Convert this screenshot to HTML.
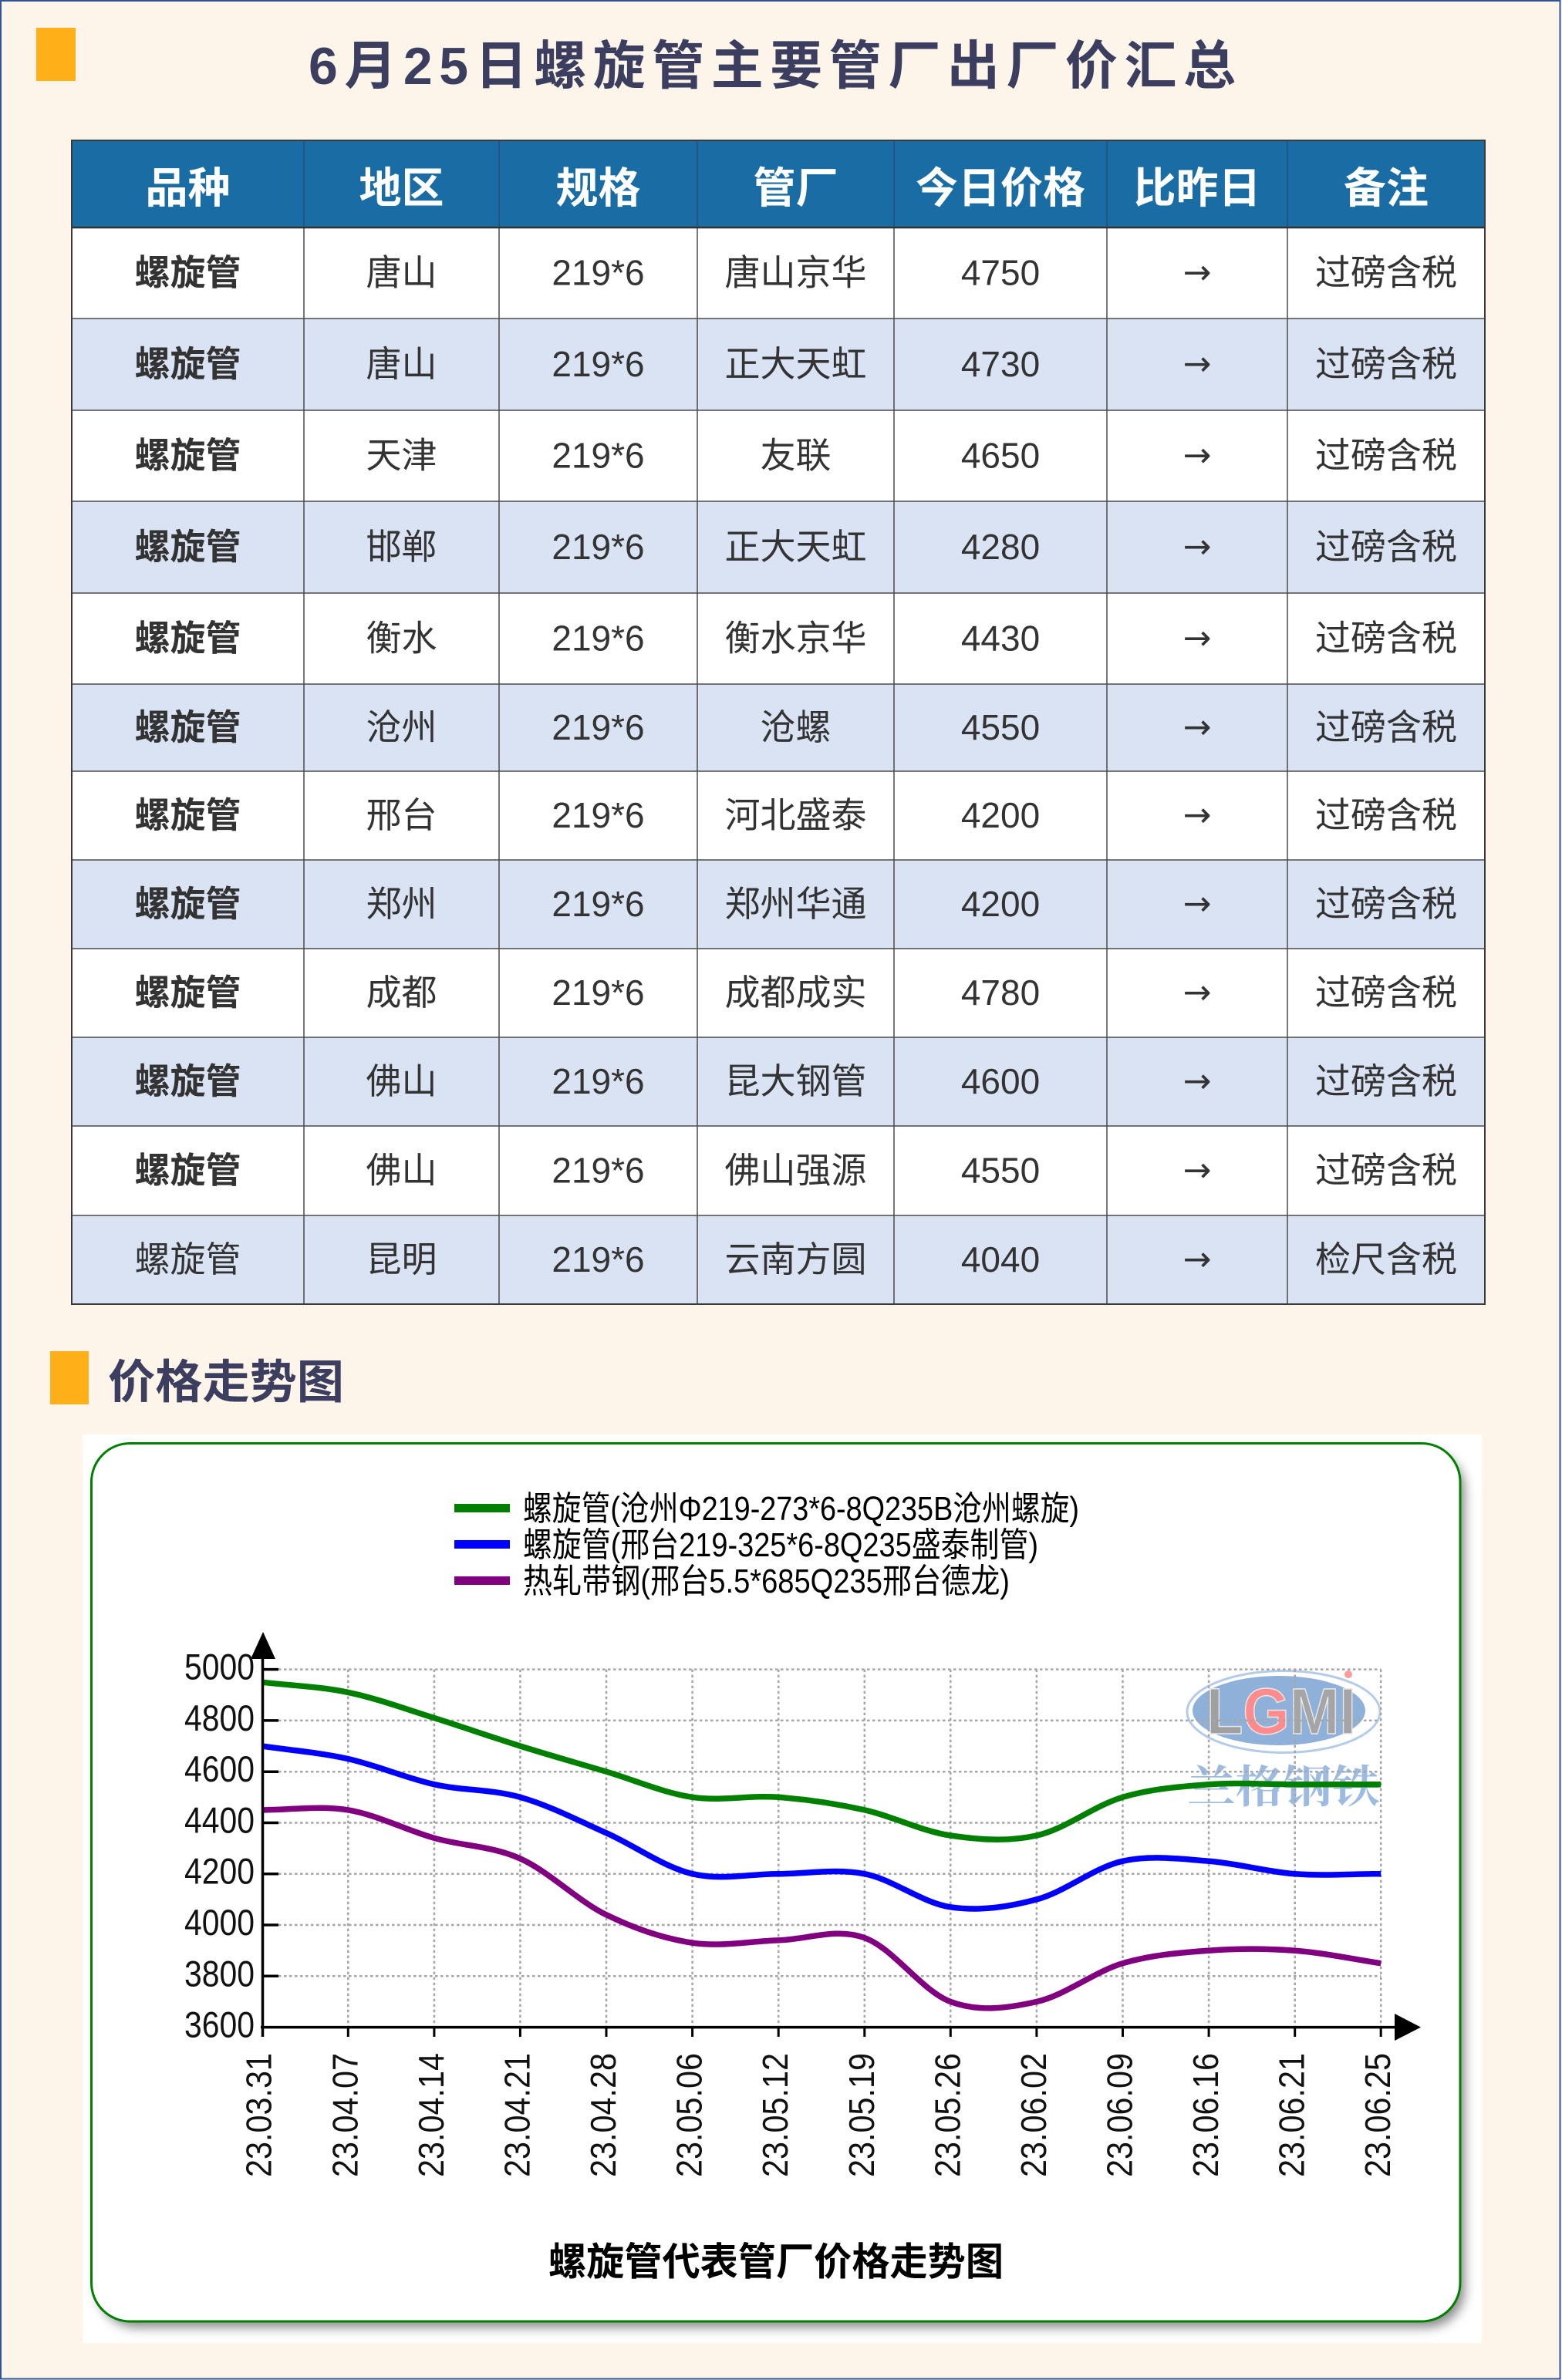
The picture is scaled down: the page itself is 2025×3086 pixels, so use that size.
<!DOCTYPE html>
<html>
<head>
<meta charset="utf-8">
<style>
html,body{margin:0;padding:0;background:#fdf5ea;}
svg{display:block;}
</style>
</head>
<body>
<svg width="2025" height="3086" viewBox="0 0 2025 3086" xmlns="http://www.w3.org/2000/svg">
<defs>
<filter id="sh" x="-5%" y="-5%" width="110%" height="110%">
<feGaussianBlur stdDeviation="7"/>
</filter>
</defs>
<!-- page background and border -->
<rect x="0" y="0" width="2025" height="3086" fill="#fdf5ea"/>
<rect x="1" y="1" width="2021.5" height="3083.5" fill="none" stroke="#2f5597" stroke-width="2"/>

<!-- title -->
<rect x="47" y="36" width="51" height="69" fill="#ffb019"/>
<text x="400" y="109" font-family="'Liberation Sans','Noto Sans CJK SC',sans-serif" font-weight="700" font-size="68" fill="#3c3e5f" textLength="1202" lengthAdjust="spacing">6月25日螺旋管主要管厂出厂价汇总</text>

<!-- table -->
<rect x="93" y="182" width="1832" height="113" fill="#1a6ca4"/>
<g fill="#dae3f3">
<rect x="93" y="413" width="1832" height="119"/>
<rect x="93" y="650" width="1832" height="119"/>
<rect x="93" y="887" width="1832" height="113"/>
<rect x="93" y="1115" width="1832" height="115"/>
<rect x="93" y="1345" width="1832" height="115"/>
<rect x="93" y="1576" width="1832" height="115"/>
</g>
<g fill="#ffffff">
<rect x="93" y="295" width="1832" height="118"/>
<rect x="93" y="532" width="1832" height="118"/>
<rect x="93" y="769" width="1832" height="118"/>
<rect x="93" y="1000" width="1832" height="115"/>
<rect x="93" y="1230" width="1832" height="115"/>
<rect x="93" y="1460" width="1832" height="116"/>
</g>
<!-- header dividers -->
<g stroke="#23507a" stroke-width="1.5">
<line x1="394" y1="182" x2="394" y2="295"/>
<line x1="647" y1="182" x2="647" y2="295"/>
<line x1="904" y1="182" x2="904" y2="295"/>
<line x1="1159" y1="182" x2="1159" y2="295"/>
<line x1="1435" y1="182" x2="1435" y2="295"/>
<line x1="1669" y1="182" x2="1669" y2="295"/>
</g>
<!-- body grid -->
<g stroke="#4a4a4a" stroke-width="1.5">
<line x1="394" y1="295" x2="394" y2="1691"/>
<line x1="647" y1="295" x2="647" y2="1691"/>
<line x1="904" y1="295" x2="904" y2="1691"/>
<line x1="1159" y1="295" x2="1159" y2="1691"/>
<line x1="1435" y1="295" x2="1435" y2="1691"/>
<line x1="1669" y1="295" x2="1669" y2="1691"/>
<line x1="93" y1="413" x2="1925" y2="413"/>
<line x1="93" y1="532" x2="1925" y2="532"/>
<line x1="93" y1="650" x2="1925" y2="650"/>
<line x1="93" y1="769" x2="1925" y2="769"/>
<line x1="93" y1="887" x2="1925" y2="887"/>
<line x1="93" y1="1000" x2="1925" y2="1000"/>
<line x1="93" y1="1115" x2="1925" y2="1115"/>
<line x1="93" y1="1230" x2="1925" y2="1230"/>
<line x1="93" y1="1345" x2="1925" y2="1345"/>
<line x1="93" y1="1460" x2="1925" y2="1460"/>
<line x1="93" y1="1576" x2="1925" y2="1576"/>
</g>
<line x1="93" y1="295" x2="1925" y2="295" stroke="#333" stroke-width="2.5"/>
<rect x="93" y="182" width="1832" height="1509" fill="none" stroke="#3a3a3a" stroke-width="2"/>

<!-- header text -->
<g font-family="'Liberation Sans','Noto Sans CJK SC',sans-serif" font-weight="700" font-size="55" fill="#ffffff" text-anchor="middle">
<text x="243.5" y="263">品种</text>
<text x="520.5" y="263">地区</text>
<text x="775.5" y="263">规格</text>
<text x="1031.5" y="263">管厂</text>
<text x="1297" y="263">今日价格</text>
<text x="1552" y="263">比昨日</text>
<text x="1797" y="263">备注</text>
</g>

<!-- body text -->
<g font-family="'Liberation Sans','Noto Sans CJK SC',sans-serif" font-size="46" fill="#333333" text-anchor="middle">
<g font-weight="700">
<text x="243.5" y="369.5">螺旋管</text>
<text x="243.5" y="488">螺旋管</text>
<text x="243.5" y="606.5">螺旋管</text>
<text x="243.5" y="725">螺旋管</text>
<text x="243.5" y="843.5">螺旋管</text>
<text x="243.5" y="959">螺旋管</text>
<text x="243.5" y="1073">螺旋管</text>
<text x="243.5" y="1188">螺旋管</text>
<text x="243.5" y="1303">螺旋管</text>
<text x="243.5" y="1418">螺旋管</text>
<text x="243.5" y="1533.5">螺旋管</text>
</g>
<text x="243.5" y="1649">螺旋管</text>

<text x="520.5" y="369.5">唐山</text>
<text x="520.5" y="488">唐山</text>
<text x="520.5" y="606.5">天津</text>
<text x="520.5" y="725">邯郸</text>
<text x="520.5" y="843.5">衡水</text>
<text x="520.5" y="959">沧州</text>
<text x="520.5" y="1073">邢台</text>
<text x="520.5" y="1188">郑州</text>
<text x="520.5" y="1303">成都</text>
<text x="520.5" y="1418">佛山</text>
<text x="520.5" y="1533.5">佛山</text>
<text x="520.5" y="1649">昆明</text>

<text x="775.5" y="369.5">219*6</text>
<text x="775.5" y="488">219*6</text>
<text x="775.5" y="606.5">219*6</text>
<text x="775.5" y="725">219*6</text>
<text x="775.5" y="843.5">219*6</text>
<text x="775.5" y="959">219*6</text>
<text x="775.5" y="1073">219*6</text>
<text x="775.5" y="1188">219*6</text>
<text x="775.5" y="1303">219*6</text>
<text x="775.5" y="1418">219*6</text>
<text x="775.5" y="1533.5">219*6</text>
<text x="775.5" y="1649">219*6</text>

<text x="1031.5" y="369.5">唐山京华</text>
<text x="1031.5" y="488">正大天虹</text>
<text x="1031.5" y="606.5">友联</text>
<text x="1031.5" y="725">正大天虹</text>
<text x="1031.5" y="843.5">衡水京华</text>
<text x="1031.5" y="959">沧螺</text>
<text x="1031.5" y="1073">河北盛泰</text>
<text x="1031.5" y="1188">郑州华通</text>
<text x="1031.5" y="1303">成都成实</text>
<text x="1031.5" y="1418">昆大钢管</text>
<text x="1031.5" y="1533.5">佛山强源</text>
<text x="1031.5" y="1649">云南方圆</text>

<text x="1297" y="369.5">4750</text>
<text x="1297" y="488">4730</text>
<text x="1297" y="606.5">4650</text>
<text x="1297" y="725">4280</text>
<text x="1297" y="843.5">4430</text>
<text x="1297" y="959">4550</text>
<text x="1297" y="1073">4200</text>
<text x="1297" y="1188">4200</text>
<text x="1297" y="1303">4780</text>
<text x="1297" y="1418">4600</text>
<text x="1297" y="1533.5">4550</text>
<text x="1297" y="1649">4040</text>

<g font-family="'DejaVu Sans',sans-serif" font-size="44">
<text x="1552" y="368">→</text>
<text x="1552" y="486.5">→</text>
<text x="1552" y="605">→</text>
<text x="1552" y="723.5">→</text>
<text x="1552" y="842">→</text>
<text x="1552" y="957.5">→</text>
<text x="1552" y="1071.5">→</text>
<text x="1552" y="1186.5">→</text>
<text x="1552" y="1301.5">→</text>
<text x="1552" y="1416.5">→</text>
<text x="1552" y="1532">→</text>
<text x="1552" y="1647.5">→</text>
</g>

<text x="1797" y="369.5">过磅含税</text>
<text x="1797" y="488">过磅含税</text>
<text x="1797" y="606.5">过磅含税</text>
<text x="1797" y="725">过磅含税</text>
<text x="1797" y="843.5">过磅含税</text>
<text x="1797" y="959">过磅含税</text>
<text x="1797" y="1073">过磅含税</text>
<text x="1797" y="1188">过磅含税</text>
<text x="1797" y="1303">过磅含税</text>
<text x="1797" y="1418">过磅含税</text>
<text x="1797" y="1533.5">过磅含税</text>
<text x="1797" y="1649">检尺含税</text>
</g>

<!-- section heading -->
<rect x="65" y="1752" width="50" height="69" fill="#ffb019"/>
<text x="140" y="1813" font-family="'Liberation Sans','Noto Sans CJK SC',sans-serif" font-weight="700" font-size="60" fill="#3c3e5f" textLength="306" lengthAdjust="spacingAndGlyphs">价格走势图</text>

<!-- chart frame -->
<rect x="107" y="1860" width="1814" height="1178" fill="#ffffff"/>
<rect x="127" y="1882" width="1772" height="1136" rx="50" ry="50" fill="#8a8a8a" filter="url(#sh)"/>
<rect x="118.5" y="1871.5" width="1774.5" height="1138.5" rx="50" ry="50" fill="#ffffff" stroke="#008000" stroke-width="3"/>

<!-- legend -->
<rect x="589" y="1950" width="72" height="11" fill="#008000"/>
<rect x="589" y="1997" width="72" height="11" fill="#0000ff"/>
<rect x="589" y="2044" width="72" height="11" fill="#800080"/>
<g font-family="'Liberation Sans','Noto Sans CJK SC',sans-serif" font-size="44" fill="#000">
<text x="678" y="1971" textLength="721" lengthAdjust="spacingAndGlyphs">螺旋管(沧州Φ219-273*6-8Q235B沧州螺旋)</text>
<text x="678" y="2018" textLength="668" lengthAdjust="spacingAndGlyphs">螺旋管(邢台219-325*6-8Q235盛泰制管)</text>
<text x="678" y="2065" textLength="631" lengthAdjust="spacingAndGlyphs">热轧带钢(邢台5.5*685Q235邢台德龙)</text>
</g>

<!-- watermark -->
<ellipse cx="1664" cy="2219.5" rx="125" ry="53" fill="none" stroke="#b5cce8" stroke-width="3"/>
<ellipse cx="1658" cy="2218" rx="112" ry="45" fill="#8fb1d9"/>
<text x="1564" y="2248" font-family="'Liberation Sans',sans-serif" font-weight="700" font-size="84" textLength="194" lengthAdjust="spacingAndGlyphs" stroke="#e8e8e8" stroke-width="1.5"><tspan fill="#a0a0a0">L</tspan><tspan fill="#ff8c8c">G</tspan><tspan fill="#a5a5a5">MI</tspan></text>
<circle cx="1748" cy="2171" r="5" fill="#ff9a9a"/>
<text x="1539" y="2337" font-family="'Liberation Serif','Noto Serif CJK SC',serif" font-weight="700" font-size="58" fill="#9dbbe0" textLength="250" lengthAdjust="spacingAndGlyphs">兰格钢铁</text>

<!-- grid -->
<g stroke="#a6a6a6" stroke-width="2.5" stroke-dasharray="3.5 3.5" fill="none">
<line x1="340" y1="2164.6" x2="1790.2" y2="2164.6"/>
<line x1="340" y1="2230.9" x2="1790.2" y2="2230.9"/>
<line x1="340" y1="2297.2" x2="1790.2" y2="2297.2"/>
<line x1="340" y1="2363.5" x2="1790.2" y2="2363.5"/>
<line x1="340" y1="2429.7" x2="1790.2" y2="2429.7"/>
<line x1="340" y1="2496.0" x2="1790.2" y2="2496.0"/>
<line x1="340" y1="2562.3" x2="1790.2" y2="2562.3"/>
<line x1="451.3" y1="2164.6" x2="451.3" y2="2627"/>
<line x1="562.9" y1="2164.6" x2="562.9" y2="2627"/>
<line x1="674.4" y1="2164.6" x2="674.4" y2="2627"/>
<line x1="786.0" y1="2164.6" x2="786.0" y2="2627"/>
<line x1="897.6" y1="2164.6" x2="897.6" y2="2627"/>
<line x1="1009.2" y1="2164.6" x2="1009.2" y2="2627"/>
<line x1="1120.8" y1="2164.6" x2="1120.8" y2="2627"/>
<line x1="1232.3" y1="2164.6" x2="1232.3" y2="2627"/>
<line x1="1343.9" y1="2164.6" x2="1343.9" y2="2627"/>
<line x1="1455.5" y1="2164.6" x2="1455.5" y2="2627"/>
<line x1="1567.1" y1="2164.6" x2="1567.1" y2="2627"/>
<line x1="1678.7" y1="2164.6" x2="1678.7" y2="2627"/>
<line x1="1790.2" y1="2164.6" x2="1790.2" y2="2627"/>
</g>

<!-- series -->
<g fill="none" stroke-width="7.5" stroke-linecap="butt" stroke-linejoin="round">
<path stroke="#008000" d="M339.7,2181.2 C376.9,2185.6 414.1,2186.7 451.3,2194.4 C488.5,2202.1 525.7,2216.0 562.9,2227.6 C600.1,2239.2 637.2,2252.4 674.4,2264.0 C711.6,2275.6 748.8,2286.2 786.0,2297.2 C823.2,2308.3 860.4,2324.8 897.6,2330.3 C934.8,2335.8 972.0,2327.5 1009.2,2330.3 C1046.4,2333.1 1083.6,2338.6 1120.8,2346.9 C1158.0,2355.2 1195.1,2374.5 1232.3,2380.0 C1269.5,2385.5 1306.7,2388.3 1343.9,2380.0 C1381.1,2371.7 1418.3,2341.4 1455.5,2330.3 C1492.7,2319.3 1529.9,2316.5 1567.1,2313.7 C1604.3,2310.9 1641.5,2313.7 1678.7,2313.7 C1715.9,2313.7 1753.0,2313.7 1790.2,2313.7"/>
<path stroke="#0000ff" d="M339.7,2264.0 C376.9,2269.5 414.1,2272.3 451.3,2280.6 C488.5,2288.9 525.7,2305.4 562.9,2313.7 C600.1,2322.0 637.2,2319.8 674.4,2330.3 C711.6,2340.8 748.8,2360.1 786.0,2376.7 C823.2,2393.3 860.4,2420.9 897.6,2429.7 C934.8,2438.5 972.0,2429.7 1009.2,2429.7 C1046.4,2429.7 1083.6,2422.5 1120.8,2429.7 C1158.0,2436.9 1195.1,2467.3 1232.3,2472.8 C1269.5,2478.3 1306.7,2472.8 1343.9,2462.9 C1381.1,2453.0 1418.3,2421.5 1455.5,2413.2 C1492.7,2404.9 1529.9,2410.5 1567.1,2413.2 C1604.3,2416.0 1641.5,2427.0 1678.7,2429.7 C1715.9,2432.5 1753.0,2429.7 1790.2,2429.7"/>
<path stroke="#800080" d="M339.7,2346.9 C376.9,2346.9 414.1,2340.8 451.3,2346.9 C488.5,2353.0 525.7,2372.8 562.9,2383.3 C600.1,2393.8 637.2,2393.3 674.4,2409.9 C711.6,2426.5 748.8,2464.6 786.0,2482.8 C823.2,2501.0 860.4,2513.7 897.6,2519.2 C934.8,2524.7 972.0,2517.0 1009.2,2515.9 C1046.4,2514.8 1083.6,2499.3 1120.8,2512.6 C1158.0,2525.9 1195.1,2581.7 1232.3,2595.5 C1269.5,2609.3 1306.7,2603.8 1343.9,2595.5 C1381.1,2587.2 1418.3,2556.8 1455.5,2545.7 C1492.7,2534.7 1529.9,2532.0 1567.1,2529.2 C1604.3,2526.5 1641.5,2526.5 1678.7,2529.2 C1715.9,2532.0 1753.0,2540.2 1790.2,2545.7"/>
</g>

<!-- axes -->
<g stroke="#000" fill="none">
<line x1="340.5" y1="2148" x2="340.5" y2="2641" stroke-width="3.5"/>
<line x1="338" y1="2628.6" x2="1810" y2="2628.6" stroke-width="3.5"/>
<g stroke-width="3.5">
<line x1="340" y1="2164.6" x2="361" y2="2164.6"/>
<line x1="340" y1="2230.9" x2="361" y2="2230.9"/>
<line x1="340" y1="2297.2" x2="361" y2="2297.2"/>
<line x1="340" y1="2363.5" x2="361" y2="2363.5"/>
<line x1="340" y1="2429.7" x2="361" y2="2429.7"/>
<line x1="340" y1="2496.0" x2="361" y2="2496.0"/>
<line x1="340" y1="2562.3" x2="361" y2="2562.3"/>
</g>
<g stroke-width="3">
<line x1="451.3" y1="2628" x2="451.3" y2="2641"/>
<line x1="562.9" y1="2628" x2="562.9" y2="2641"/>
<line x1="674.4" y1="2628" x2="674.4" y2="2641"/>
<line x1="786.0" y1="2628" x2="786.0" y2="2641"/>
<line x1="897.6" y1="2628" x2="897.6" y2="2641"/>
<line x1="1009.2" y1="2628" x2="1009.2" y2="2641"/>
<line x1="1120.8" y1="2628" x2="1120.8" y2="2641"/>
<line x1="1232.3" y1="2628" x2="1232.3" y2="2641"/>
<line x1="1343.9" y1="2628" x2="1343.9" y2="2641"/>
<line x1="1455.5" y1="2628" x2="1455.5" y2="2641"/>
<line x1="1567.1" y1="2628" x2="1567.1" y2="2641"/>
<line x1="1678.7" y1="2628" x2="1678.7" y2="2641"/>
<line x1="1790.2" y1="2628" x2="1790.2" y2="2641"/>
</g>
</g>
<polygon points="325,2151 357,2151 341,2116" fill="#000"/>
<polygon points="1808,2611 1808,2646 1842,2628.6" fill="#000"/>

<!-- y labels -->
<g font-family="'Liberation Sans',sans-serif" font-size="47" fill="#111">
<text x="239" y="2177.6" textLength="91" lengthAdjust="spacingAndGlyphs">5000</text>
<text x="239" y="2243.9" textLength="91" lengthAdjust="spacingAndGlyphs">4800</text>
<text x="239" y="2310.2" textLength="91" lengthAdjust="spacingAndGlyphs">4600</text>
<text x="239" y="2376.5" textLength="91" lengthAdjust="spacingAndGlyphs">4400</text>
<text x="239" y="2442.7" textLength="91" lengthAdjust="spacingAndGlyphs">4200</text>
<text x="239" y="2509.0" textLength="91" lengthAdjust="spacingAndGlyphs">4000</text>
<text x="239" y="2575.3" textLength="91" lengthAdjust="spacingAndGlyphs">3800</text>
<text x="239" y="2641.6" textLength="91" lengthAdjust="spacingAndGlyphs">3600</text>
</g>

<!-- x labels -->
<g font-family="'Liberation Sans',sans-serif" font-size="46" fill="#111">
<text transform="translate(351.7,2823) rotate(-90)" textLength="161" lengthAdjust="spacingAndGlyphs">23.03.31</text>
<text transform="translate(463.3,2823) rotate(-90)" textLength="161" lengthAdjust="spacingAndGlyphs">23.04.07</text>
<text transform="translate(574.9,2823) rotate(-90)" textLength="161" lengthAdjust="spacingAndGlyphs">23.04.14</text>
<text transform="translate(686.4,2823) rotate(-90)" textLength="161" lengthAdjust="spacingAndGlyphs">23.04.21</text>
<text transform="translate(798.0,2823) rotate(-90)" textLength="161" lengthAdjust="spacingAndGlyphs">23.04.28</text>
<text transform="translate(909.6,2823) rotate(-90)" textLength="161" lengthAdjust="spacingAndGlyphs">23.05.06</text>
<text transform="translate(1021.2,2823) rotate(-90)" textLength="161" lengthAdjust="spacingAndGlyphs">23.05.12</text>
<text transform="translate(1132.8,2823) rotate(-90)" textLength="161" lengthAdjust="spacingAndGlyphs">23.05.19</text>
<text transform="translate(1244.3,2823) rotate(-90)" textLength="161" lengthAdjust="spacingAndGlyphs">23.05.26</text>
<text transform="translate(1355.9,2823) rotate(-90)" textLength="161" lengthAdjust="spacingAndGlyphs">23.06.02</text>
<text transform="translate(1467.5,2823) rotate(-90)" textLength="161" lengthAdjust="spacingAndGlyphs">23.06.09</text>
<text transform="translate(1579.1,2823) rotate(-90)" textLength="161" lengthAdjust="spacingAndGlyphs">23.06.16</text>
<text transform="translate(1690.7,2823) rotate(-90)" textLength="161" lengthAdjust="spacingAndGlyphs">23.06.21</text>
<text transform="translate(1802.2,2823) rotate(-90)" textLength="161" lengthAdjust="spacingAndGlyphs">23.06.25</text>
</g>

<!-- chart title -->
<text x="711" y="2950" font-family="'Liberation Sans','Noto Sans CJK SC',sans-serif" font-weight="700" font-size="50" fill="#000" textLength="590" lengthAdjust="spacingAndGlyphs">螺旋管代表管厂价格走势图</text>
</svg>
</body>
</html>
